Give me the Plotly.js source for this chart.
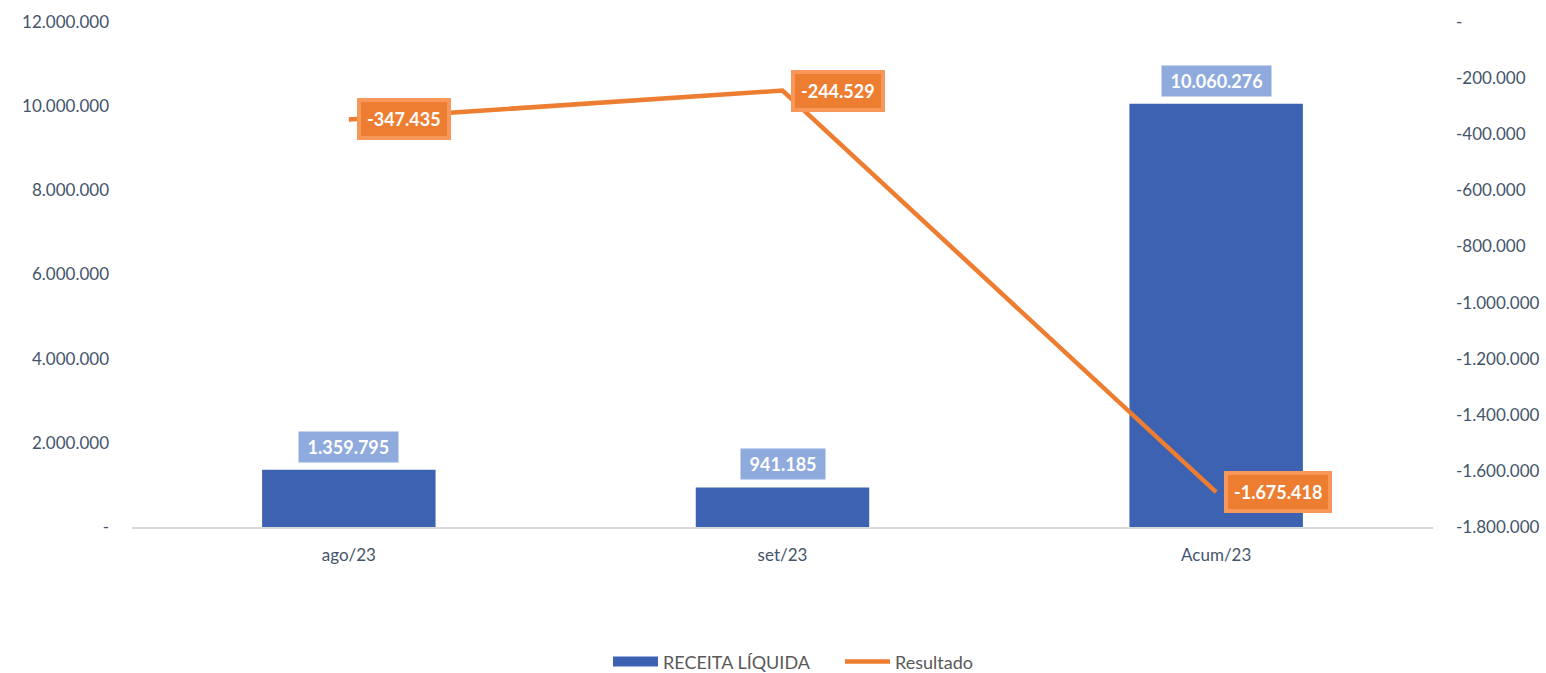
<!DOCTYPE html>
<html>
<head>
<meta charset="utf-8">
<script src="https://cdn.plot.ly/plotly-3.0.1.min.js"></script>
<style>
  body { margin: 0; background: #fff; }
  #plot { width: 1546px; height: 673px; }
</style>
</head>
<body>
<div id="plot"></div>
<script>
// chart data
var categories = ["ago/23", "set/23", "Acum/23"];
var receita = [1359795, 941185, 10060276];
var resultado = [-347435, -244529, -1675418];

// axis ticks
var leftTickVals = [0, 2000000, 4000000, 6000000, 8000000, 10000000, 12000000];
var leftTickText = ["-", "2.000.000", "4.000.000", "6.000.000", "8.000.000", "10.000.000", "12.000.000"];
var rightTickVals = [0, -200000, -400000, -600000, -800000, -1000000, -1200000, -1400000, -1600000, -1800000];
var rightTickText = ["-", "-200.000", "-400.000", "-600.000", "-800.000", "-1.000.000", "-1.200.000", "-1.400.000", "-1.600.000", "-1.800.000"];

// number format with dots as thousands separator
function fmt(v) {
	var s = Math.abs(v).toString().replace(/\B(?=(\d{3})+(?!\d))/g, ".");
	return (v < 0 ? "-" : "") + s;
}

var fontFam = "Lato, 'Open Sans', sans-serif";
var tickColor = "#44546A";
var barColor = "#3D62B1";

var barTrace = {
	x: categories,
	y: receita,
	type: "bar",
	name: "RECEITA LÍQUIDA",
	marker: { color: barColor },
	yaxis: "y",
	showlegend: false,
	hoverinfo: "skip"
};

// legend entry only: wide flat swatch like the original
var barLegend = {
	x: [null],
	y: [null],
	type: "scatter",
	mode: "lines",
	name: "RECEITA LÍQUIDA",
	line: { color: barColor, width: 10 },
	hoverinfo: "skip"
};

var lineTrace = {
	x: categories,
	y: resultado,
	type: "scatter",
	mode: "lines",
	name: "Resultado",
	line: { color: "#ED7D31", width: 4.5 },
	yaxis: "y2",
	hoverinfo: "skip"
};

// data labels
var annotations = [];
for (var i = 0; i < categories.length; i++) {
	annotations.push({
		x: categories[i], y: receita[i], xref: "x", yref: "y",
		text: "&nbsp;<b>" + fmt(receita[i]) + "</b>&nbsp;",
		showarrow: false, yanchor: "bottom", yshift: 7,
		bgcolor: "#8FAADC", borderpad: 4,
		font: { family: fontFam, size: 18, color: "#ffffff" }
	});
	annotations.push({
		x: categories[i], y: resultado[i], xref: "x", yref: "y2",
		text: "<b>" + fmt(resultado[i]) + "</b>",
		showarrow: false, xanchor: "left", xshift: 8,
		bgcolor: "#ED7D31", bordercolor: "#F8975A", borderwidth: 4, borderpad: 6,
		font: { family: fontFam, size: 18, color: "#ffffff" }
	});
}

var layout = {
	width: 1546,
	height: 673,
	margin: { l: 132, r: 113, t: 22, b: 146, autoexpand: false },
	paper_bgcolor: "#ffffff",
	plot_bgcolor: "#ffffff",
	font: { family: fontFam, size: 16, color: tickColor },
	bargap: 0.6,
	showlegend: true,
	legend: {
		orientation: "h",
		x: 608 / 1546, xanchor: "left", xref: "container",
		y: -0.267, yanchor: "middle",
		font: { family: fontFam, size: 18, color: "#595959" },
		itemwidth: 45,
		entrywidth: 172,
		tracegroupgap: 0
	},
	xaxis: {
		type: "category",
		showgrid: false,
		showline: true,
		linecolor: "#D9D9D9",
		linewidth: 1.5,
		ticks: "",
		ticklabelstandoff: 12,
		tickfont: { family: fontFam, size: 17, color: tickColor }
	},
	yaxis: {
		range: [0, 12000000],
		tickvals: leftTickVals,
		ticktext: leftTickText,
		showgrid: false,
		zeroline: false,
		showline: false,
		ticks: "",
		ticklabelstandoff: 22,
		tickfont: { family: fontFam, size: 17, color: tickColor }
	},
	yaxis2: {
		overlaying: "y",
		side: "right",
		range: [-1800000, 0],
		tickvals: rightTickVals,
		ticktext: rightTickText,
		showgrid: false,
		zeroline: false,
		showline: false,
		ticks: "",
		ticklabelstandoff: 22,
		tickfont: { family: fontFam, size: 17, color: tickColor }
	},
	annotations: annotations
};

Plotly.newPlot("plot", [barTrace, barLegend, lineTrace], layout, { displayModeBar: false, staticPlot: true });
</script>
</body>
</html>
